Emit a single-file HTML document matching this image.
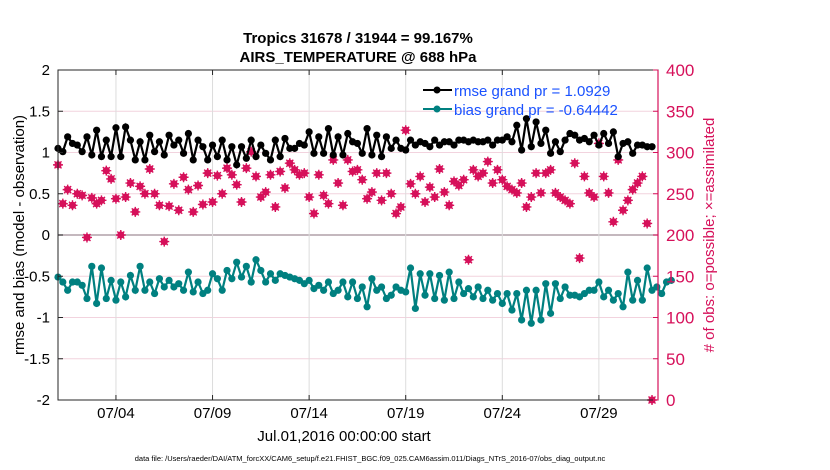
<!DOCTYPE html>
<html><head><meta charset="utf-8"><style>
body{margin:0;background:#fff;}
svg{display:block;font-family:"Liberation Sans",sans-serif;}
</style></head><body>
<svg id="chart" width="830" height="470" viewBox="0 0 830 470" xmlns="http://www.w3.org/2000/svg">
<rect width="830" height="470" fill="#fff"/>
<g id="grid"></g>
<g id="series"></g>
<rect x="58" y="70" width="600" height="330" fill="none" stroke="#262626" stroke-width="1"/>
<g id="axes"></g>
<text x="358" y="43" font-size="15" font-weight="bold" text-anchor="middle">Tropics 31678 / 31944 = 99.167%</text>
<text x="358" y="62" font-size="15" font-weight="bold" text-anchor="middle">AIRS_TEMPERATURE @ 688 hPa</text>
<text transform="translate(24,235) rotate(-90)" font-size="15" text-anchor="middle">rmse and bias (model - observation)</text>
<text transform="translate(714,235) rotate(-90)" font-size="15" fill="#d6105a" text-anchor="middle"># of obs: o=possible; ×=assimilated</text>
<text x="344" y="441" font-size="15" text-anchor="middle">Jul.01,2016 00:00:00 start</text>
<text x="370" y="461" font-size="7.5" text-anchor="middle">data file: /Users/raeder/DAI/ATM_forcXX/CAM6_setup/f.e21.FHIST_BGC.f09_025.CAM6assim.011/Diags_NTrS_2016-07/obs_diag_output.nc</text>
<g id="legend">
<g>
<line x1="423" y1="90" x2="452" y2="90" stroke="#000" stroke-width="2"/><circle cx="437" cy="90" r="3.5" fill="#000"/>
<text x="454" y="96" font-size="15" fill="#1a52ff">rmse grand pr = 1.0929</text></g>
<g>
<line x1="423" y1="109" x2="452" y2="109" stroke="#008080" stroke-width="2"/><circle cx="437" cy="109" r="3.5" fill="#008080"/>
<text x="454" y="115" font-size="15" fill="#1a52ff">bias grand pr = -0.64442</text></g>
</g>
</svg>
<script>
const rmse=[1.05,1.01,1.19,1.11,1.09,1.01,1.19,0.97,1.27,0.95,1.15,0.95,1.30,0.95,1.31,1.15,0.91,1.13,0.91,1.21,1.01,1.13,0.97,1.21,1.09,1.15,0.99,1.23,0.91,1.15,1.07,0.91,1.09,0.95,1.15,0.91,1.07,0.85,1.07,0.93,
1.15,0.95,1.09,0.99,0.91,1.15,0.95,1.17,1.05,1.05,1.11,1.09,1.25,0.99,1.19,0.99,1.29,0.97,1.19,0.97,1.23,1.13,1.11,0.99,1.29,0.97,1.21,0.95,1.19,1.05,1.15,1.05,1.03,1.15,1.09,1.13,1.11,1.07,1.15,1.09,1.13,1.13,1.09,1.15,
1.15,1.13,1.15,1.13,1.13,1.15,1.09,1.15,1.15,1.19,1.13,1.33,1.03,1.41,1.07,1.37,1.11,1.27,0.99,1.13,1.01,1.15,1.23,1.21,1.15,1.17,1.13,1.21,1.09,1.23,1.11,1.25,0.95,1.11,1.13,0.99,1.09,1.09,1.07,1.07];
const bias=[-0.51,-0.57,-0.67,-0.57,-0.57,-0.61,-0.77,-0.38,-0.83,-0.40,-0.77,-0.55,-0.79,-0.57,-0.75,-0.49,-0.67,-0.38,-0.67,-0.57,-0.71,-0.53,-0.63,-0.55,-0.63,-0.59,-0.67,-0.45,-0.69,-0.57,-0.71,-0.67,-0.47,-0.53,-0.67,-0.43,-0.53,-0.33,-0.51,-0.38,
-0.57,-0.30,-0.43,-0.57,-0.47,-0.55,-0.47,-0.49,-0.51,-0.53,-0.55,-0.59,-0.55,-0.65,-0.61,-0.67,-0.57,-0.71,-0.67,-0.57,-0.75,-0.57,-0.77,-0.63,-0.87,-0.53,-0.67,-0.63,-0.77,-0.73,-0.63,-0.67,-0.69,-0.40,-0.89,-0.47,-0.73,-0.47,-0.77,-0.49,-0.79,-0.45,-0.77,-0.57,
-0.71,-0.65,-0.75,-0.63,-0.77,-0.67,-0.79,-0.71,-0.83,-0.71,-0.91,-0.71,-1.03,-0.67,-1.07,-0.67,-1.03,-0.59,-0.95,-0.59,-0.77,-0.63,-0.73,-0.73,-0.75,-0.71,-0.67,-0.67,-0.57,-0.75,-0.67,-0.79,-0.71,-0.87,-0.45,-0.79,-0.55,-0.79,-0.40,-0.67,-0.63,-0.71,-0.57,-0.55];
const obsCount=[285,238,255,236,250,248,197,245,238,242,278,268,244,200,246,263,228,259,250,280,250,236,192,235,262,230,270,255,228,260,237,275,240,272,250,281,273,261,240,281,
301,271,246,252,273,234,277,257,287,279,273,275,246,226,273,248,238,291,263,236,291,277,279,267,244,252,275,242,275,250,226,234,327,262,250,271,240,258,246,280,252,236,265,260,
267,170,279,271,275,289,263,279,267,259,255,251,263,234,246,275,251,275,279,251,246,242,238,287,172,271,251,246,311,271,251,216,291,230,242,255,263,271,214,0];
const yTicks=[2,1.5,1,0.5,0,-0.5,-1,-1.5,-2];
const yTickLabels=["2","1.5","1","0.5","0","-0.5","-1","-1.5","-2"];
const y2Ticks=[400,350,300,250,200,150,100,50,0];
const xTickDays=[3,8,13,18,23,28];
const xTickLabels=["07/04","07/09","07/14","07/19","07/24","07/29"];
const stepDays=0.25;

const NS="http://www.w3.org/2000/svg";
const X0=58,X1=658,Y0=70,Y1=400,DAYMAX=31.06;
const xs=d=>X0+(d/DAYMAX)*(X1-X0);
const ys=v=>Y1-(v+2)/4*(Y1-Y0);
const y2s=c=>Y1-c/400*(Y1-Y0);
function mk(tag,attrs,parent){const e=document.createElementNS(NS,tag);for(const k in attrs)e.setAttribute(k,attrs[k]);parent.appendChild(e);return e;}
const grid=document.getElementById('grid'),axes=document.getElementById('axes'),ser=document.getElementById('series');
yTicks.forEach((v,i)=>{
  const g=mk('line',{x1:X0,x2:X1,y1:ys(v),y2:ys(v),stroke:v===0?'#b0a0a8':'#f2d3de','stroke-width':v===0?1.5:1},grid);
  
  
  const t=mk('text',{x:X0-8,y:ys(v)+5,'font-size':15,'text-anchor':'end'},axes);t.textContent=yTickLabels[i];
  
  
  mk('line',{x1:X0,x2:X0+5,y1:ys(v),y2:ys(v),stroke:'#262626'},axes);
});
y2Ticks.forEach(c=>{
  mk('line',{x1:X1,x2:X1-5,y1:y2s(c),y2:y2s(c),stroke:'#d6105a'},axes);
  const t=mk('text',{x:X1+8,y:y2s(c)+6,'font-size':17,fill:'#d6105a'},axes);t.textContent=c;
  
  
});
mk('line',{x1:X1,x2:X1,y1:Y0,y2:Y1,stroke:'#d6105a','stroke-width':1.2},axes);
xTickDays.forEach((d,i)=>{
  const l=mk('line',{x1:xs(d),x2:xs(d),y1:Y0,y2:Y1,stroke:'#dcdcdc'},grid);
  
  
  mk('line',{x1:xs(d),x2:xs(d),y1:Y1,y2:Y1-5,stroke:'#262626'},axes);
  mk('line',{x1:xs(d),x2:xs(d),y1:Y0,y2:Y0+5,stroke:'#262626'},axes);
  const t=mk('text',{x:xs(d),y:418,'font-size':15,'text-anchor':'middle'},axes);t.textContent=xTickLabels[i];
  
  
});
obsCount.forEach((c,i)=>{
  const cx=xs(i*stepDays),cy=y2s(c);
  const g=mk('g',{},ser);
  
  
  mk('circle',{cx:cx,cy:cy,r:3.6,fill:'#d6105a'},g);
  mk('path',{d:`M${cx-5},${cy}H${cx+5}M${cx},${cy-5}V${cy+5}M${cx-3.5},${cy-3.5}L${cx+3.5},${cy+3.5}M${cx-3.5},${cy+3.5}L${cx+3.5},${cy-3.5}`,stroke:'#d6105a','stroke-width':1.4},g);
});
function line(vals,color,name){
  const pts=vals.map((v,i)=>xs(i*stepDays).toFixed(1)+','+ys(v).toFixed(1)).join(' ');
  const p=mk('polyline',{points:pts,fill:'none',stroke:color,'stroke-width':2.2},ser);
  
  
  vals.forEach((v,i)=>{
    const c=mk('circle',{cx:xs(i*stepDays),cy:ys(v),r:3.6,fill:color},ser);
    
    
  });
}
line(rmse,'#000','rmse');
line(bias,'#008080','bias');
</script>
</body></html>
